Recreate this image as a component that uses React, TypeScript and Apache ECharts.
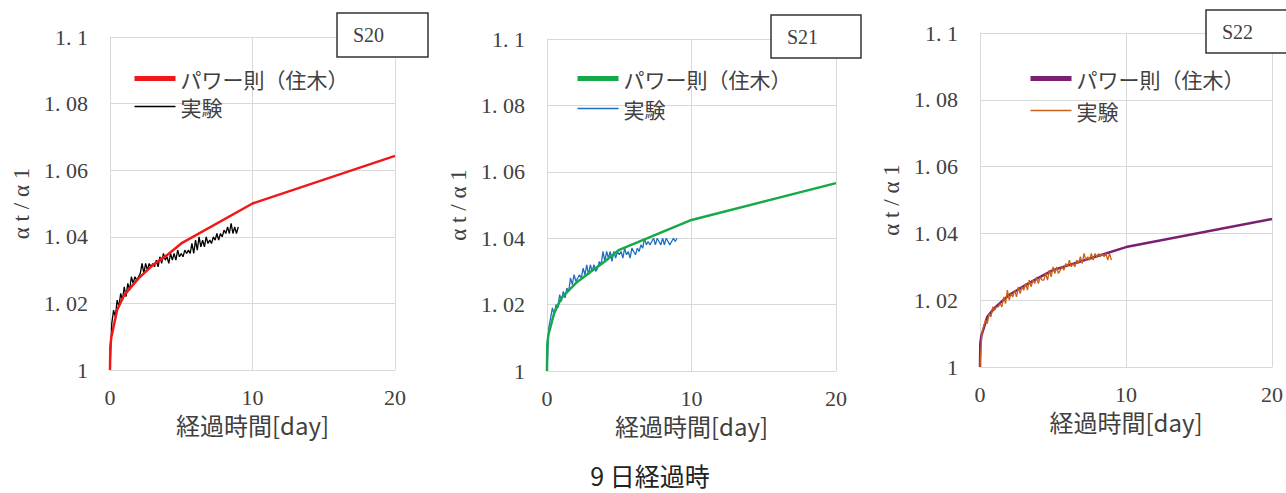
import React, { useEffect, useRef } from "react";
import * as echarts from "echarts";

// shared time axis of the experiment records [day]
const expT = [
  0, 0.125, 0.25, 0.375, 0.5, 0.625, 0.75, 0.875, 1, 1.125, 1.25, 1.375, 1.5, 1.625, 1.75, 1.875,
  2, 2.125, 2.25, 2.375, 2.5, 2.625, 2.75, 2.875, 3, 3.125, 3.25, 3.375, 3.5, 3.625, 3.75, 3.875,
  4, 4.125, 4.25, 4.375, 4.5, 4.625, 4.75, 4.875, 5, 5.125, 5.25, 5.375, 5.5, 5.625, 5.75, 5.875,
  6, 6.125, 6.25, 6.375, 6.5, 6.625, 6.75, 6.875, 7, 7.125, 7.25, 7.375, 7.5, 7.625, 7.75, 7.875,
  8, 8.125, 8.25, 8.375, 8.5, 8.625, 8.75, 8.875, 9,
];

const s20Exp = [
  1.0, 1.014, 1.018, 1.016, 1.021, 1.019, 1.023, 1.021, 1.025, 1.022, 1.026, 1.024, 1.028, 1.026, 1.028, 1.027,
  1.028, 1.029, 1.032, 1.029, 1.032, 1.03, 1.032, 1.031, 1.032, 1.031, 1.033, 1.031, 1.034, 1.032, 1.035, 1.033,
  1.034, 1.032, 1.035, 1.033, 1.035, 1.033, 1.036, 1.034, 1.035, 1.034, 1.036, 1.035, 1.036, 1.035, 1.038, 1.035,
  1.039, 1.036, 1.04, 1.037, 1.039, 1.037, 1.04, 1.038, 1.039, 1.038, 1.04, 1.039, 1.041, 1.039, 1.041, 1.04,
  1.042, 1.041, 1.043, 1.041, 1.044, 1.041, 1.043, 1.041, 1.043,
];

const s21Exp = [
  1.0, 1.013, 1.016, 1.019, 1.017, 1.02, 1.019, 1.023, 1.021, 1.024, 1.022, 1.025, 1.024, 1.028, 1.026, 1.029,
  1.027, 1.028, 1.029, 1.028, 1.031, 1.029, 1.032, 1.029, 1.032, 1.03, 1.032, 1.03, 1.031, 1.033, 1.032, 1.036,
  1.033, 1.036, 1.034, 1.036, 1.033, 1.036, 1.034, 1.036, 1.035, 1.036, 1.034, 1.037, 1.035, 1.036, 1.034, 1.037,
  1.036, 1.035, 1.037, 1.036, 1.038, 1.037, 1.04, 1.038, 1.039, 1.038, 1.039, 1.04, 1.038, 1.04, 1.039, 1.038,
  1.04, 1.038, 1.04, 1.039, 1.038, 1.039, 1.04, 1.039, 1.04,
];

const s22Exp = [
  1.0, 1.01, 1.012, 1.014, 1.013, 1.016, 1.015, 1.018, 1.017, 1.018, 1.018, 1.019, 1.018, 1.021, 1.019, 1.023,
  1.02, 1.022, 1.021, 1.023, 1.021, 1.024, 1.022, 1.024, 1.023, 1.025, 1.023, 1.026, 1.024, 1.026, 1.025, 1.027,
  1.025, 1.027, 1.026, 1.026, 1.028, 1.026, 1.029, 1.027, 1.03, 1.028, 1.03, 1.028, 1.029, 1.03, 1.029, 1.031,
  1.03, 1.032, 1.03, 1.031, 1.03, 1.032, 1.031, 1.033, 1.031, 1.034, 1.032, 1.033, 1.032, 1.034, 1.032, 1.034,
  1.033, 1.034, 1.033, 1.034, 1.033, 1.034, 1.032, 1.034, 1.032,
];

// power law (住木) model points
const powT = [0, 0.02, 0.1, 0.5, 1, 2, 3, 4, 5, 10, 20];
const s20Pow = [1.0, 1.007, 1.01, 1.018, 1.0225, 1.0275, 1.0315, 1.0345, 1.038, 1.05, 1.0643];
const s21Pow = [1.0, 1.008, 1.011, 1.0175, 1.022, 1.0265, 1.0298, 1.033, 1.0365, 1.0455, 1.0566];
const s22Pow = [1.0, 1.007, 1.0095, 1.015, 1.0177, 1.0216, 1.0242, 1.0267, 1.029, 1.0359, 1.0443];

const yTickLabels = ["1", "1. 02", "1. 04", "1. 06", "1. 08", "1. 1"];
const xTickLabels = ["0", "10", "20"];
const powName = "パワー則（住木）";
const expName = "実験";
const caption = "9 日経過時";

const zip = (t: number[], v: number[]) => t.map((x, i) => [x, v[i]]);

const SERIF = "'Liberation Serif', 'DejaVu Serif', serif";
const JP = "'Noto Sans CJK JP', sans-serif";
const TXT = "#404040";
const GRID = "#d9d9d9";

type Panel = {
  label: string;
  grid: { left: number; top: number; width: number; height: number };
  box: { x: number; y: number; w: number; h: number };
  legend: { left: number; top: number; gap: number };
  powColor: string;
  expColor: string;
  pow: number[];
  exp: number[];
  expOnTop: boolean;
  caption?: boolean;
};

function buildOption(p: Panel): any {
  const powSeries = {
    type: "line",
    name: powName,
    data: zip(powT, p.pow),
    symbol: "none",
    color: p.powColor,
    lineStyle: { color: p.powColor, width: 2.5 },
  };
  const expSeries = {
    type: "line",
    name: expName,
    data: zip(expT, p.exp),
    symbol: "none",
    color: p.expColor,
    lineStyle: { color: p.expColor, width: 1.3 },
  };
  const graphic: any[] = [
    {
      type: "rect",
      shape: { x: p.box.x, y: p.box.y, width: p.box.w, height: p.box.h },
      style: { fill: "#fff", stroke: "#333", lineWidth: 1.5 },
      z: 10,
    },
    {
      type: "text",
      x: p.box.x + 16,
      y: p.box.y + p.box.h / 2,
      style: {
        text: p.label,
        fill: TXT,
        font: `20px ${SERIF}`,
        verticalAlign: "middle",
      },
      z: 11,
    },
  ];
  if (p.caption) {
    graphic.push({
      type: "text",
      x: 220,
      y: 475,
      style: {
        text: caption,
        fill: "#222",
        font: `25px ${JP}`,
        lineHeight: 25,
        align: "center",
        verticalAlign: "middle",
      },
    });
  }
  const opt: any = {
    animation: false,
    backgroundColor: "#fff",
    grid: { ...p.grid, containLabel: false },
    xAxis: {
      type: "value",
      min: 0,
      max: 20,
      interval: 10,
      axisLine: { show: true, lineStyle: { color: GRID, width: 1 } },
      axisTick: { show: false },
      splitLine: { show: true, lineStyle: { color: GRID, width: 1 } },
      axisLabel: {
        color: TXT,
        fontFamily: SERIF,
        fontSize: 22,
        margin: 16,
        formatter: (v: number) => xTickLabels[Math.round(v / 10)] ?? String(v),
      },
      name: "経過時間[day]",
      nameLocation: "middle",
      nameGap: 41,
      nameTextStyle: { color: TXT, fontFamily: JP, fontSize: 24 },
    },
    yAxis: {
      type: "value",
      min: 1,
      max: 1.1,
      interval: 0.02,
      axisLine: { show: true, lineStyle: { color: GRID, width: 1 } },
      axisTick: { show: false },
      splitLine: { show: true, lineStyle: { color: GRID, width: 1 } },
      axisLabel: {
        color: TXT,
        fontFamily: SERIF,
        fontSize: 22,
        margin: 22,
        formatter: (v: number) => yTickLabels[Math.round((v - 1) / 0.02)] ?? String(v),
      },
      name: "α t / α 1",
      nameLocation: "middle",
      nameGap: 70,
      nameRotate: 90,
      nameTextStyle: { color: TXT, fontFamily: SERIF, fontSize: 23 },
    },
    legend: {
      orient: "vertical",
      left: p.legend.left,
      top: p.legend.top,
      itemWidth: 41,
      itemHeight: 14,
      itemGap: p.legend.gap,
      padding: 0,
      itemStyle: { opacity: 0 },
      textStyle: { color: TXT, fontFamily: JP, fontSize: 21, lineHeight: 21 },
      data: [
        { name: powName, lineStyle: { width: 5 } },
        { name: expName, lineStyle: { width: 1.3 } },
      ],
    },
    graphic,
    series: p.expOnTop ? [powSeries, expSeries] : [expSeries, powSeries],
  };
  return opt;
}

const panels: { left: number; width: number; cfg: Panel }[] = [
  {
    left: 0,
    width: 430,
    cfg: {
      label: "S20",
      grid: { left: 110, top: 37, width: 285, height: 333 },
      box: { x: 337, y: 13, w: 91, h: 44 },
      legend: { left: 132, top: 68, gap: 7 },
      powColor: "#f01818",
      expColor: "#000000",
      pow: s20Pow,
      exp: s20Exp,
      expOnTop: false,
    },
  },
  {
    left: 430,
    width: 440,
    cfg: {
      label: "S21",
      grid: { left: 117, top: 39, width: 289, height: 332 },
      box: { x: 341, y: 15, w: 90, h: 43 },
      legend: { left: 145, top: 68, gap: 9 },
      powColor: "#17a84a",
      expColor: "#1f6fc0",
      pow: s21Pow,
      exp: s21Exp,
      expOnTop: false,
      caption: true,
    },
  },
  {
    left: 870,
    width: 416,
    cfg: {
      label: "S22",
      grid: { left: 110, top: 33, width: 292, height: 334 },
      box: { x: 336, y: 10, w: 91, h: 43 },
      legend: { left: 158, top: 68, gap: 11 },
      powColor: "#7a1f73",
      expColor: "#c8601a",
      pow: s22Pow,
      exp: s22Exp,
      expOnTop: true,
    },
  },
];

function ChartPanel({ left, width, cfg }: { left: number; width: number; cfg: Panel }) {
  const ref = useRef<HTMLDivElement>(null);
  useEffect(() => {
    if (!ref.current) return;
    const chart = echarts.init(ref.current, undefined, { renderer: "svg" });
    chart.setOption(buildOption(cfg));
    return () => chart.dispose();
  }, []);
  return (
    <div
      ref={ref}
      style={{ position: "absolute", left, top: 0, width, height: 493, overflow: "hidden" }}
    />
  );
}

export default function App() {
  return (
    <div style={{ position: "absolute", left: 0, top: 0, width: 1286, height: 493, background: "#fff" }}>
      {panels.map((p, i) => (
        <ChartPanel key={i} left={p.left} width={p.width} cfg={p.cfg} />
      ))}
    </div>
  );
}
